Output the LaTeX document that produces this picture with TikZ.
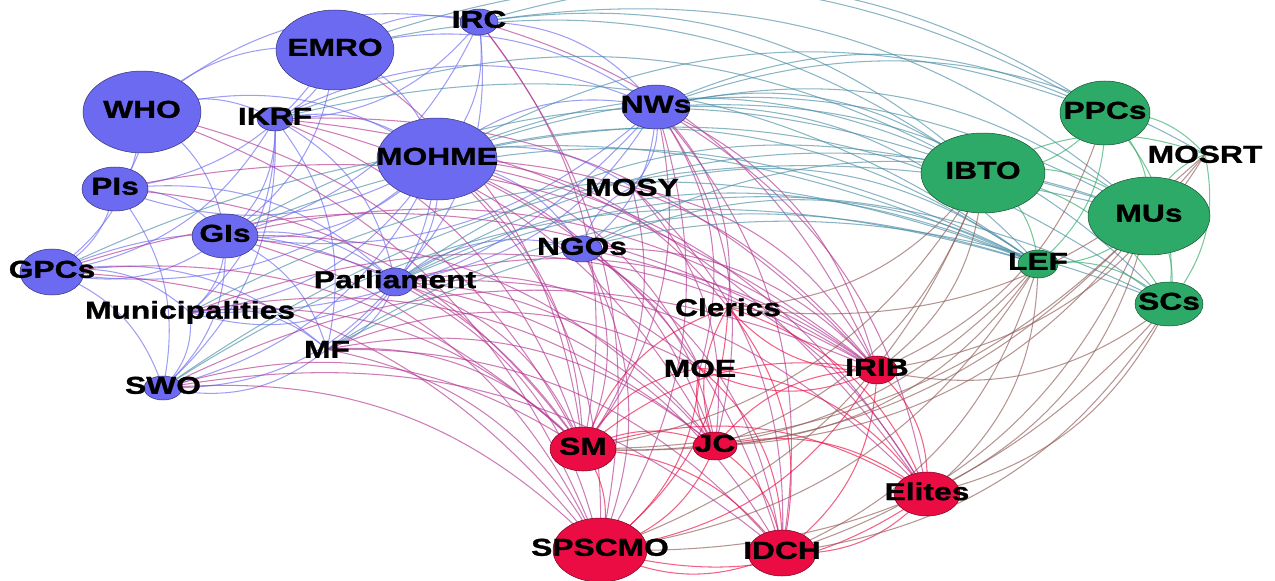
\documentclass[tikz,border=0pt]{standalone}
\usepackage{fontspec}
\setmainfont{Liberation Sans}[FakeStretch=1.3, BoldFeatures={FakeBold=1.2}]
\usetikzlibrary{shapes.geometric}
\definecolor{cB}{RGB}{108,106,240}
\definecolor{cG}{RGB}{46,170,104}
\definecolor{cR}{RGB}{236,12,68}
\pgfdeclarelayer{bg}
\pgfsetlayers{bg,main}
\tikzset{
  nb/.style={ellipse, fill=cB, draw=cB!50!black, line width=0.3pt, inner sep=0pt},
  ng/.style={ellipse, fill=cG, draw=cG!50!black, line width=0.3pt, inner sep=0pt},
  nr/.style={ellipse, fill=cR, draw=cR!50!black, line width=0.3pt, inner sep=0pt},
  sz/.style 2 args={minimum width=#1*0.04cm, minimum height=#2*0.04cm},
  lbl/.style={font=\fontsize{13.9}{15}\selectfont\bfseries, inner sep=0pt, yshift=1.5pt},
  ebb/.style={cB, opacity=0.65, line width=0.6pt},
  ebr/.style={cB!45!cR, opacity=0.65, line width=0.6pt},
  ebg/.style={cB!45!cG, opacity=0.65, line width=0.6pt},
  err/.style={cR, opacity=0.65, line width=0.6pt},
  erg/.style={cR!50!cG, opacity=0.65, line width=0.6pt},
  egg/.style={cG, opacity=0.65, line width=0.6pt}
}

\begin{document}
\begin{tikzpicture}[x=0.02cm, y=-0.02cm]
		%%%%% START %%%%%
		\useasboundingbox (0,0) rectangle (1275,581);
		
		% blue group
		\node[nb, sz={59}{41}] (WHO) at (142,112) {};
		\node[nb, sz={59}{40}] (EMRO) at (335,50) {};
		\node[nb, sz={19}{13}] (IRC) at (479,22) {};
		\node[nb, sz={18}{12}] (IKRF) at (275,119) {};
		\node[nb, sz={60}{41}] (MOHME) at (437,159) {};
		\node[nb, sz={34}{22}] (NWs) at (656,107) {};
		\node[nb, sz={33}{22}] (PIs) at (115,189) {};
		\node[nb, sz={33}{22}] (GIs) at (225,236) {};
		\node[nb, sz={32}{23}] (GPCs) at (52,272) {};
		\node[nb, sz={20}{13}] (NGOs) at (582,249) {};
		\node[nb, sz={19}{14}] (Parl) at (395,282) {};
		\node[nb, sz={19}{12}] (SWO) at (163,388) {};
		\node[lbl] (Muni) at (190,315) {Municipalities};
		\node[lbl] (MF) at (327,352) {MF};
		\node[lbl] (MOSY) at (632,190) {MOSY};
		
		% red group
		\node[nr, sz={20}{14}] (IRIB) at (877,370) {};
		\node[nr, sz={33}{22}] (SM) at (583,449) {};
		\node[nr, sz={22}{14}] (JC) at (715,446) {};
		\node[nr, sz={33}{22}] (Elites) at (927,494) {};
		\node[nr, sz={47}{32}] (SPSCMO) at (600,550) {};
		\node[nr, sz={34}{23}] (IDCH) at (782,553) {};
		\node[lbl] (Clerics) at (728,310) {Clerics};
		\node[lbl] (MOE) at (700,371) {MOE};
		
		% green group
		\node[ng, sz={45}{32}] (PPCs) at (1105,113) {};
		\node[ng, sz={62}{40}] (IBTO) at (983,173) {};
		\node[ng, sz={61}{39}] (MUs) at (1149,216) {};
		\node[ng, sz={20}{14}] (LEF) at (1038,264) {};
		\node[ng, sz={34}{22}] (SCs) at (1169,304) {};
		\node[lbl] (MOSRT) at (1205,157) {MOSRT};
		
		% labels on the circles
		\foreach \n/\t in {WHO/WHO, EMRO/EMRO, IRC/IRC, IKRF/IKRF, MOHME/MOHME, NWs/NWs,
			PIs/PIs, GIs/GIs, GPCs/GPCs, NGOs/NGOs, Parl/Parliament, SWO/SWO,
			IRIB/IRIB, SM/SM, JC/JC, Elites/Elites, SPSCMO/SPSCMO, IDCH/IDCH,
			PPCs/PPCs, IBTO/IBTO, MUs/MUs, LEF/LEF, SCs/SCs}
			\node[lbl] at (\n) {\t};
		
		\begin{pgfonlayer}{bg}
		% blue to blue
		\foreach \a/\b in {WHO/EMRO, WHO/IKRF, WHO/PIs, WHO/GIs, WHO/MOHME, WHO/IRC, WHO/GPCs,
			EMRO/IRC, EMRO/MOHME, EMRO/IKRF, EMRO/NWs, EMRO/GIs, EMRO/PIs,
			IRC/MOHME, IRC/NWs, IRC/Parl, IRC/IKRF, IRC/GIs,
			IKRF/MOHME, IKRF/GIs, IKRF/Parl, IKRF/SWO, IKRF/Muni, IKRF/MF, IKRF/NWs, IKRF/GPCs,
			MOHME/NWs, MOHME/PIs, MOHME/GIs, MOHME/GPCs, MOHME/Parl, MOHME/Muni, MOHME/MF,
			MOHME/SWO, MOHME/NGOs, MOHME/MOSY, NWs/NGOs, NWs/Parl, NWs/GIs, NWs/MOSY, NWs/Muni,
			PIs/GIs, PIs/GPCs, PIs/Parl, PIs/SWO, GIs/GPCs, GIs/Parl, GIs/SWO, GIs/Muni, GIs/MF,
			GPCs/Parl, GPCs/SWO, GPCs/Muni, GPCs/MF, Parl/Muni, Parl/MF, Parl/SWO, Parl/NGOs,
			Muni/SWO, Muni/MF, MF/SWO, NGOs/MOSY}
			\draw[ebb] (\a.center) to[bend left=25] (\b.center);
		% blue to red
		\foreach \a/\b in {WHO/SPSCMO, WHO/SM, IKRF/IRIB, IKRF/SM, IKRF/JC, IKRF/Elites,
			MOHME/SM, MOHME/SPSCMO, MOHME/IDCH, MOHME/JC, MOHME/IRIB, MOHME/Elites, MOHME/MOE,
			MOHME/Clerics, IRC/SM, IRC/SPSCMO, IRC/IRIB, NWs/SM, NWs/JC, NWs/IRIB, NWs/SPSCMO,
			NWs/IDCH, NWs/Elites, NWs/MOE, NWs/Clerics, GIs/SM, GIs/SPSCMO, GIs/IRIB, GIs/JC,
			GPCs/SM, GPCs/SPSCMO, GPCs/IRIB, Parl/SM, Parl/SPSCMO, Parl/JC, Parl/IRIB, Parl/IDCH,
			Parl/Elites, Parl/MOE, Muni/SM, Muni/IRIB, Muni/JC, MF/SM, MF/SPSCMO, MF/JC, MF/IDCH,
			MF/MOE, SWO/SPSCMO, SWO/SM, SWO/IRIB, SWO/IDCH, NGOs/SM, NGOs/SPSCMO, NGOs/JC,
			NGOs/IDCH, NGOs/IRIB, NGOs/Elites, MOSY/SM, MOSY/JC, MOSY/IRIB, MOSY/IDCH,
			PIs/SM, PIs/IRIB, EMRO/SM}
			\draw[ebr] (\a.center) to[bend left=25] (\b.center);
		% blue to green
		\foreach \a/\b in {EMRO/PPCs, EMRO/IBTO, IRC/PPCs, IRC/IBTO, IRC/MUs, MOHME/IBTO,
			MOHME/MUs, MOHME/LEF, MOHME/PPCs, MOHME/SCs, NWs/PPCs, NWs/IBTO, NWs/MUs, NWs/LEF,
			NWs/SCs, NWs/MOSRT, GIs/LEF, GIs/IBTO, Parl/LEF, Parl/MUs, Parl/SCs, Parl/IBTO,
			Muni/LEF, MF/LEF, MF/SCs, SWO/LEF, SWO/MUs, NGOs/LEF, NGOs/MUs, MOSY/LEF,
			IKRF/LEF, IKRF/IBTO, GPCs/LEF}
			\draw[ebg] (\a.center) to[bend left=25] (\b.center);
		% red to red
		\foreach \a/\b in {SM/SPSCMO, SM/JC, SM/IDCH, SM/Elites, SM/IRIB, SM/MOE, SM/Clerics,
			JC/SPSCMO, JC/IDCH, JC/Elites, JC/IRIB, JC/MOE, JC/Clerics, IRIB/Elites, IRIB/IDCH,
			IRIB/SPSCMO, IRIB/Clerics, IRIB/MOE, Elites/IDCH, Elites/SPSCMO, IDCH/SPSCMO,
			Clerics/SPSCMO, Clerics/IDCH, Clerics/Elites, MOE/SPSCMO, MOE/IDCH, MOE/Elites}
			\draw[err] (\a.center) to[bend left=25] (\b.center);
		% red to green
		\foreach \a/\b in {IBTO/SM, IBTO/JC, IBTO/IRIB, IBTO/SPSCMO, MUs/SM, MUs/Elites,
			MUs/IDCH, MUs/JC, LEF/SM, LEF/JC, LEF/IDCH, LEF/Elites, LEF/SPSCMO, SCs/Elites,
			SCs/IDCH, SCs/SPSCMO, SCs/IRIB, PPCs/IRIB, MOSRT/SM, MOSRT/IRIB, MOSRT/Clerics,
			IBTO/Clerics}
			\draw[erg] (\a.center) to[bend left=25] (\b.center);
		% green to green
		\foreach \a/\b in {PPCs/IBTO, PPCs/MUs, PPCs/MOSRT, PPCs/LEF, PPCs/SCs, IBTO/MUs,
			IBTO/LEF, IBTO/SCs, IBTO/MOSRT, MUs/LEF, MUs/SCs, MUs/MOSRT, LEF/SCs, MOSRT/SCs}
			\draw[egg] (\a.center) to[bend left=25] (\b.center);
		\end{pgfonlayer}
		
		%%%%% END %%%%%
	\end{tikzpicture}
\end{document}
